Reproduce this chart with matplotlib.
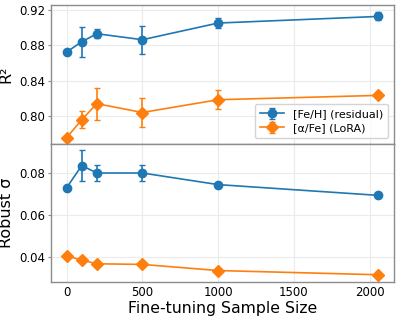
import numpy as np
import matplotlib
matplotlib.use("Agg")
import matplotlib.pyplot as plt

# tamaños de muestra de ajuste fino
sizes = [0, 100, 200, 500, 1000, 2058]

# R^2
r2_feh = [0.8725, 0.8842, 0.8933, 0.8865, 0.9054, 0.9129]
r2_feh_err = [0.0015, 0.017, 0.005, 0.016, 0.0057, 0.0045]
r2_afe = [0.7754, 0.7958, 0.8140, 0.8040, 0.8185, 0.8234]
r2_afe_err = [0.0010, 0.0098, 0.018, 0.0165, 0.0105, 0.0015]

# robust sigma
sig_feh = [0.0730, 0.0835, 0.0800, 0.0800, 0.0745, 0.0694]
sig_feh_err = [0.0008, 0.0072, 0.0036, 0.0039, 0.0008, 0.0008]
sig_afe = [0.0407, 0.0388, 0.0370, 0.0367, 0.0338, 0.0318]
sig_afe_err = [0.0006, 0.0006, 0.0006, 0.0006, 0.0006, 0.0006]

azul = "#1f77b4"
naranja = "#ff7f0e"

fig, (ax1, ax2) = plt.subplots(2, 1, sharex=True, figsize=(4.0, 3.21), dpi=100)
fig.subplots_adjust(left=0.1275, right=0.985, top=0.984, bottom=0.121, hspace=0)

estilo = dict(capsize=2.5, elinewidth=1.2, capthick=1.0, lw=1.2, ms=6)

ax1.errorbar(sizes, r2_feh, yerr=r2_feh_err, fmt="-o", color=azul,
             label="[Fe/H] (residual)", **estilo)
ax1.errorbar(sizes, r2_afe, yerr=r2_afe_err, fmt="-D", color=naranja,
             label="[α/Fe] (LoRA)", **estilo)
ax2.errorbar(sizes, sig_feh, yerr=sig_feh_err, fmt="-o", color=azul, **estilo)
ax2.errorbar(sizes, sig_afe, yerr=sig_afe_err, fmt="-D", color=naranja, **estilo)

ax1.set_ylim(0.7687, 0.9257)
ax1.set_yticks([0.80, 0.84, 0.88, 0.92])
ax2.set_ylim(0.0283, 0.0939)
ax2.set_yticks([0.04, 0.06, 0.08])
ax2.set_xticks([0, 500, 1000, 1500, 2000])

ax1.set_ylabel("R²", fontsize=11.5)
ax2.set_ylabel("Robust σ", fontsize=11.5)
ax2.set_xlabel("Fine-tuning Sample Size", fontsize=11.3, labelpad=1)

for ax in (ax1, ax2):
    ax.grid(True, color="#ebebeb", lw=0.8)
    ax.set_axisbelow(True)
    ax.tick_params(axis="y", length=2, width=0.8, color="#8c8c8c", labelsize=8.5, pad=2)
    ax.tick_params(axis="x", length=0, labelsize=8.5, pad=3)
    for s in ax.spines.values():
        s.set_color("#8c8c8c")
        s.set_linewidth(1.0)

ax1.legend(loc="lower right", fontsize=8, framealpha=0.9, edgecolor="#d0d0d0",
           handlelength=2.2, borderpad=0.45, labelspacing=0.35)

fig.savefig("out.png", dpi=100)
